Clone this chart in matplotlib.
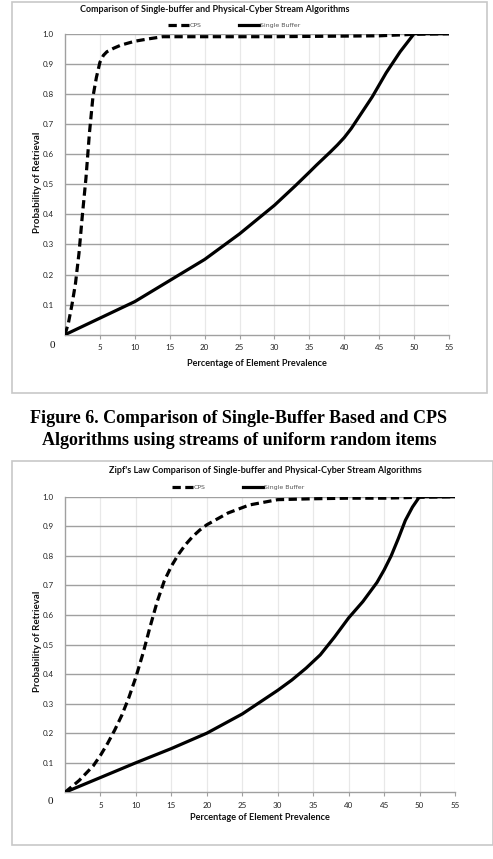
import matplotlib
matplotlib.use("Agg")
import matplotlib.pyplot as plt
from matplotlib.patches import Rectangle

W, H = 493, 859

# uniform random items
x_cps_u = [0, 0.5, 1, 1.5, 2, 2.5, 3, 3.5, 4, 4.5, 5, 5.5, 6, 7, 8, 10, 12, 14, 20, 30, 40, 45, 50, 55]
y_cps_u = [0, 0.04, 0.1, 0.17, 0.27, 0.4, 0.52, 0.67, 0.79, 0.855, 0.905, 0.928, 0.94, 0.952, 0.962, 0.975, 0.983, 0.99, 0.99, 0.99, 0.992, 0.993, 0.998, 1.0]
x_sb_u = [0, 5, 10, 15, 20, 25, 30, 33, 35, 36, 37, 38, 39, 40, 41, 42, 43, 44, 45, 46, 47, 48, 49, 50, 55]
y_sb_u = [0, 0.055, 0.11, 0.18, 0.25, 0.335, 0.43, 0.495, 0.54, 0.563, 0.585, 0.607, 0.63, 0.655, 0.685, 0.72, 0.755, 0.79, 0.83, 0.87, 0.905, 0.94, 0.97, 1.0, 1.0]

# zipf's law items
x_cps_z = [0, 2, 4, 5, 6, 7, 8, 9, 10, 11, 12, 13, 14, 15, 16, 17, 18, 19, 20, 23, 26, 30, 35, 40, 45, 50, 55]
y_cps_z = [0, 0.04, 0.09, 0.125, 0.165, 0.21, 0.26, 0.32, 0.39, 0.47, 0.56, 0.645, 0.715, 0.765, 0.805, 0.838, 0.865, 0.887, 0.905, 0.945, 0.972, 0.99, 0.993, 0.995, 0.995, 0.998, 1.0]
x_sb_z = [0, 5, 10, 15, 20, 25, 30, 32, 34, 36, 38, 40, 42, 44, 45, 46, 47, 48, 49, 50, 55]
y_sb_z = [0, 0.05, 0.1, 0.148, 0.2, 0.265, 0.345, 0.38, 0.42, 0.465, 0.525, 0.59, 0.645, 0.71, 0.752, 0.8, 0.858, 0.92, 0.965, 1.0, 1.0]

x_ticks = [5, 10, 15, 20, 25, 30, 35, 40, 45, 50, 55]
y_ticks = [0.1, 0.2, 0.3, 0.4, 0.5, 0.6, 0.7, 0.8, 0.9, 1.0]

sans = "Lato"
fig = plt.figure(figsize=(W / 100, H / 100), dpi=100)


def fx(x):
    return x / W


def fy(y):
    return 1 - y / H


def panel(box, plot, title, title_x, series, leg_xy, xlab_x, xlab_y, ylab_y, zero_xy):
    # light grey frame round the whole chart
    x0, y0, x1, y1 = box
    fig.patches.append(Rectangle((fx(x0), fy(y1)), fx(x1 - x0), (y1 - y0) / H,
                                 transform=fig.transFigure, fill=False,
                                 edgecolor="#c8c8c8", linewidth=1.2))
    l, t, r, b = plot
    ax = fig.add_axes([fx(l), fy(b), fx(r - l), (b - t) / H])
    (xc, yc), (xs, ys) = series
    ax.plot(xc, yc, color="black", linewidth=2.3, linestyle=(0, (2.6, 1.4)),
            label="CPS", zorder=3)
    ax.plot(xs, ys, color="black", linewidth=2.3, label="Single Buffer", zorder=3)
    ax.set_xlim(0, 55)
    ax.set_ylim(0, 1.0)
    ax.set_xticks(x_ticks)
    ax.set_yticks(y_ticks)
    ax.set_yticklabels([f"{v:.1f}" for v in y_ticks])
    ax.tick_params(axis="y", length=0, pad=8, labelsize=5.8, labelcolor="#222222")
    ax.tick_params(axis="x", length=3, direction="out", color="#a0a0a0", pad=4,
                   labelsize=5.8, labelcolor="#222222")
    for lab in ax.get_xticklabels() + ax.get_yticklabels():
        lab.set_fontfamily(sans)
    ax.grid(axis="y", color="#a0a0a0", linewidth=1.0)
    ax.grid(axis="x", color="#e8e8e8", linewidth=0.9)
    ax.set_axisbelow(True)
    for s in ["top", "right"]:
        ax.spines[s].set_visible(False)
    for s in ["left", "bottom"]:
        ax.spines[s].set_color("#a0a0a0")
        ax.spines[s].set_linewidth(1.0)
    fig.text(fx(title_x), fy(title[1]), title[0], ha="center", va="center",
             fontsize=6.5, fontweight="bold", family=sans, color="#111111")
    fig.text(fx(xlab_x), fy(xlab_y), "Percentage of Element Prevalence",
             ha="center", va="center", fontsize=6.6, fontweight="bold",
             family=sans, color="#111111")
    fig.text(fx(38), fy(ylab_y), "Probability of Retrieval", ha="center",
             va="center", rotation=90, fontsize=7.0, fontweight="bold",
             family=sans, color="#111111")
    fig.text(fx(zero_xy[0]), fy(zero_xy[1]), "0", ha="center", va="center",
             fontsize=8, family="Liberation Serif", color="#111111")
    ax.legend(loc="center", bbox_to_anchor=(fx(leg_xy[0]), fy(leg_xy[1])),
              bbox_transform=fig.transFigure, ncol=2, frameon=False,
              fontsize=4.5, handlelength=3.3, handletextpad=0.1,
              columnspacing=6.0, labelcolor="#555555", borderpad=0)
    return ax


panel((12, 2, 487, 393), (65, 33.7, 449, 334.7),
      ("Comparison of Single-buffer and Physical-Cyber Stream Algorithms", 10), 215,
      ((x_cps_u, y_cps_u), (x_sb_u, y_sb_u)), (234, 25), 257, 363, 182, (52, 345))

panel((12, 461, 493, 845), (65, 496.7, 455, 792.3),
      ("Zipf's Law Comparison of Single-buffer and Physical-Cyber Stream Algorithms", 470), 265,
      ((x_cps_z, y_cps_z), (x_sb_z, y_sb_z)), (238, 487), 260, 818, 641, (50, 802))

fig.text(fx(239), fy(418), "Figure 6. Comparison of Single-Buffer Based and CPS",
         ha="center", va="center", fontsize=13, fontweight="bold",
         family="Liberation Serif")
fig.text(fx(239), fy(440), "Algorithms using streams of uniform random items",
         ha="center", va="center", fontsize=13, fontweight="bold",
         family="Liberation Serif")

fig.savefig("out.png", dpi=100, facecolor="white")
